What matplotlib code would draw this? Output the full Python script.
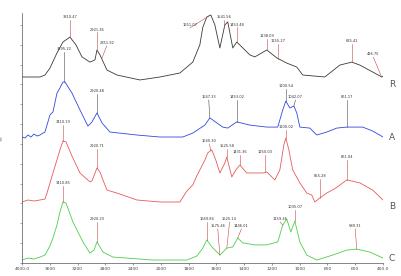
import numpy as np
import matplotlib
matplotlib.use("Agg")
import matplotlib.pyplot as plt

# FTIR spectra (wavenumber in cm-1, transmittance with stacking offset)
r_wn = [4000, 3885, 3741, 3669, 3597, 3496, 3410, 3309, 3222, 3136, 3021, 2949, 2920, 2877,
        2776, 2632, 2301, 2013, 1863, 1770, 1719, 1698, 1669, 1640, 1611, 1575, 1539, 1518,
        1482, 1453, 1431, 1359, 1323, 1237, 1165, 1093, 1021, 978, 819, 711, 625, 567, 474,
        409, 400]
r_t = [75.0, 75.0, 75.0, 75.8, 78.6, 84.7, 89.1, 91.1, 87.9, 83.1, 81.0, 81.9, 85.9, 83.9,
       77.8, 75.8, 73.8, 75.0, 76.6, 81.0, 88.0, 95.0, 99.2, 100.0, 96.0, 86.7, 96.0, 97.2,
       86.7, 89.1, 87.9, 83.9, 83.1, 85.9, 82.7, 80.6, 79.0, 75.8, 75.0, 79.8, 81.0, 79.8, 77.0,
       75.0, 75.3]

a_wn = [4000, 3957, 3914, 3870, 3827, 3784, 3741, 3698, 3669, 3597, 3554, 3496, 3453, 3410,
        3381, 3280, 3165, 3050, 2992, 2920, 2848, 2733, 2344, 2013, 1842, 1770, 1683, 1647,
        1597, 1554, 1518, 1453, 1359, 1237, 1158, 1122, 1100, 1071, 1042, 1021, 999, 927, 877,
        805, 733, 661, 546, 474, 400]
a_t = [50.8, 50.4, 51.6, 50.8, 52.0, 51.2, 51.6, 52.4, 52.8, 59.7, 60.9, 68.5, 70.6, 73.0,
       73.0, 68.5, 61.7, 55.2, 56.9, 60.5, 56.5, 52.8, 51.6, 50.8, 50.8, 52.4, 55.6, 58.5,
       56.5, 54.8, 54.4, 56.9, 55.6, 54.8, 54.8, 61.7, 65.3, 62.5, 63.3, 60.5, 54.8, 54.4, 51.6,
       52.8, 54.4, 54.8, 54.8, 53.2, 50.8]

b_wn = [4000, 3914, 3827, 3741, 3669, 3640, 3554, 3453, 3410, 3366, 3280, 3165, 3021, 2992,
        2920, 2877, 2834, 2776, 2632, 2344, 2013, 1863, 1813, 1770, 1741, 1683, 1662, 1633,
        1604, 1575, 1539, 1525, 1489, 1460, 1431, 1381, 1266, 1237, 1179, 1143, 1114, 1100,
        1078, 1050, 999, 949, 913, 891, 855, 805, 740, 690, 661, 567, 474, 400]
b_t = [24.6, 25.4, 25.0, 25.4, 25.8, 28.2, 36.3, 45.6, 49.2, 48.8, 43.1, 36.3, 32.7, 33.1,
       38.3, 36.7, 33.5, 29.4, 28.2, 25.4, 24.6, 24.6, 29.0, 31.5, 35.1, 41.5, 44.4, 45.6,
       41.5, 36.3, 40.3, 42.7, 34.7, 37.5, 39.5, 36.3, 36.3, 36.7, 33.5, 37.5, 47.6, 50.4,
       45.6, 37.5, 32.3, 28.2, 27.4, 24.6, 26.2, 28.2, 30.2, 32.3, 33.5, 32.3, 29.4, 25.4]

c_wn = [4000, 3914, 3827, 3741, 3669, 3597, 3554, 3496, 3453, 3410, 3366, 3266, 3122, 3021,
        2963, 2920, 2877, 2834, 2690, 2114, 1813, 1741, 1698, 1669, 1633, 1575, 1525, 1482,
        1446, 1410, 1323, 1237, 1158, 1122, 1093, 1064, 1035, 999, 949, 877, 762, 661, 589,
        495, 400]
c_t = [1.2, 2.0, 1.6, 2.4, 3.2, 6.9, 10.1, 15.3, 20.6, 24.6, 24.2, 16.5, 8.5, 4.0,
       5.2, 8.5, 6.5, 4.4, 2.4, 1.2, 1.2, 2.8, 6.0, 9.3, 6.5, 3.2, 6.0, 6.5,
       10.1, 8.1, 7.3, 7.3, 8.5, 15.3, 17.7, 12.5, 16.9, 8.5, 3.2, 1.2, 3.2, 5.2, 5.6,
       4.4, 2.0]

# peak labels: (peak wavenumber, text wavenumber, text level, text)
r_peaks = [(3310.5, 3310.5, 98.0, "3310.47"), (2921.4, 2921.4, 93.0, "2921.36"),
           (2851.9, 2780, 87.5, "2851.92"), (1651.1, 1790, 94.8, "1651.07"),
           (1541.6, 1541.6, 98.0, "1541.56"), (1453.5, 1453.5, 95.0, "1453.48"),
           (1238.1, 1238.1, 90.3, "1238.09"), (1155.3, 1155.3, 88.3, "1155.27"),
           (625.4, 625.4, 88.3, "625.41"), (410.0, 470, 83.0, "426.75")]
a_peaks = [(3395.2, 3395.2, 85.1, "3395.22"), (2920.5, 2920.5, 68.1, "2920.48"),
           (1647.3, 1655, 65.7, "1647.33"), (1453.0, 1453.0, 65.7, "1453.02"),
           (1100.5, 1100.5, 70.2, "1100.54"), (1042.1, 1030, 65.7, "1042.07"),
           (661.2, 661.2, 65.7, "661.17")]
b_peaks = [(3410.2, 3410.2, 55.6, "3410.19"), (2920.7, 2920.7, 46.0, "2920.71"),
           (1640.3, 1650, 48.0, "1640.30"), (1525.6, 1525.6, 46.0, "1525.58"),
           (1431.4, 1431.4, 43.5, "1431.36"), (1250.0, 1250.0, 43.5, "1250.03"),
           (1100.0, 1100.0, 53.6, "1100.02"), (855.3, 855.3, 33.9, "855.28"),
           (661.0, 661.0, 41.5, "661.04")]
c_peaks = [(3410.0, 3410.0, 31.0, "3410.85"), (2920.2, 2920.2, 16.5, "2920.20"),
           (1669.0, 1669.0, 16.5, "1669.84"), (1575.0, 1590, 13.7, "1575.46"),
           (1525.0, 1505, 16.5, "1525.14"), (1446.0, 1420, 13.7, "1446.01"),
           (1122.0, 1140, 16.5, "1159.46"), (1035.0, 1035.0, 21.4, "1035.07"),
           (589.0, 600, 13.7, "589.31")]

x_ticks = [4000, 3600, 3200, 2800, 2400, 2000, 1800, 1600, 1400, 1200, 1000, 800, 600, 400]
x_ticklabels = ["4000.0", "3600", "3200", "2800", "2400", "2000", "1800", "1600", "1400",
                "1200", "1000", "800", "600", "400.0"]


def _fwd(w):
    # instrument-style axis: 4000-2000 at half the scale of 2000-400
    w = np.asarray(w, dtype=float)
    return np.where(w >= 2000, w / 400.0, (w - 1000.0) / 200.0)


def _inv(p):
    p = np.asarray(p, dtype=float)
    return np.where(p >= 5, p * 400.0, p * 200.0 + 1000.0)


def plot_spectra(output_path="out.png"):
    fig = plt.figure(figsize=(4.02, 2.76), dpi=100)
    ax = fig.add_axes([22 / 402, 1 - 263 / 276, (383 - 22) / 402, (263 - 13) / 276])
    ax.set_xscale("function", functions=(_fwd, _inv))

    # name, data, peaks, line colour, marker colour, name-tag height
    series = [
        ("R", r_wn, r_t, r_peaks, "#3a3a3a", "#c84848", 71.8),
        ("A", a_wn, a_t, a_peaks, "#3048e0", "#4a4a4a", 50.4),
        ("B", b_wn, b_t, b_peaks, "#e85a5a", "#c84848", 22.6),
        ("C", c_wn, c_t, c_peaks, "#4ccf4c", "#c84848", 2.0),
    ]
    for name, wn, t, peaks, color, mark_color, tag_y in series:
        wn = np.asarray(wn, dtype=float)
        t = np.asarray(t, dtype=float)
        ax.plot(wn, t, color=color, linewidth=0.6)
        for w_peak, w_text, level, text in peaks:
            y_peak = np.interp(w_peak, wn[::-1], t[::-1])
            ax.plot([w_text, w_peak], [level, y_peak], color=mark_color, linewidth=0.4)
            ax.text(w_text, level + 0.3, text, ha="center", va="bottom", fontsize=2.6,
                    color="#333333")
        ax.text(1.025, tag_y, name, transform=ax.get_yaxis_transform(), ha="center",
                va="center", fontsize=6.5, color="#555555", clip_on=False)

    ax.set_xlim(4000, 400)
    ax.set_ylim(0, 100.8)
    ax.set_xticks(x_ticks)
    ax.set_xticklabels(x_ticklabels)
    ax.set_yticks(np.arange(0, 100, 8))
    ax.set_yticklabels([])
    ax.tick_params(axis="x", labelsize=3.2, length=1.2, width=0.4, pad=2, colors="#444444")
    ax.tick_params(axis="y", length=1.5, width=0.4, colors="#666666")
    ax.minorticks_off()
    for side in ("top", "right"):
        ax.spines[side].set_visible(False)
    for side in ("left", "bottom"):
        ax.spines[side].set_color("#555555")
        ax.spines[side].set_linewidth(0.5)
    ax.set_ylabel("%T", fontsize=2.8, color="#444444", labelpad=8)
    fig.savefig(output_path, dpi=100)
    plt.close(fig)
    return output_path


plot_spectra("out.png")
